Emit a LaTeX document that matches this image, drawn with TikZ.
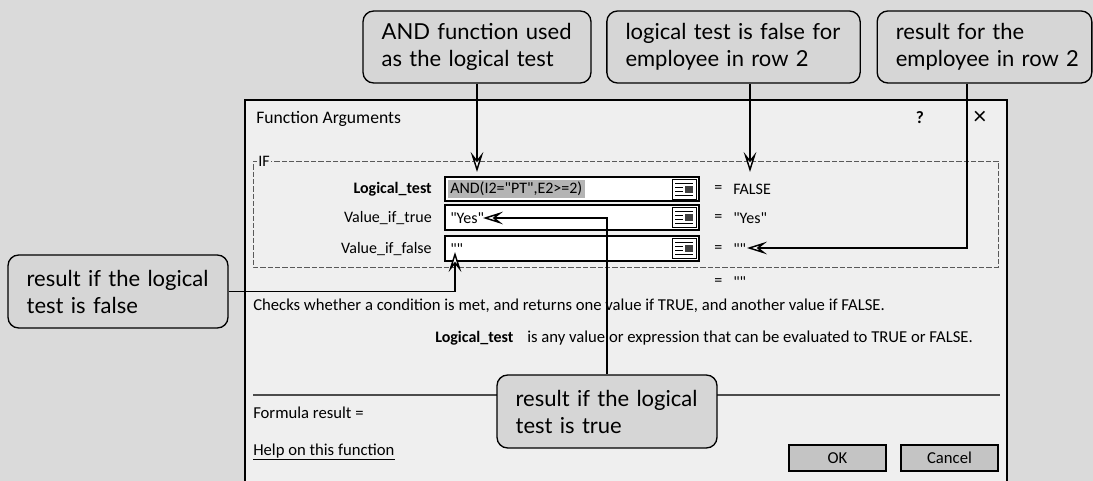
\documentclass[tikz,border=0pt]{standalone}
\usepackage{fontspec}
\setmainfont{Carlito}
\newfontfamily\calloutfont{Lato}
\usetikzlibrary{arrows.meta}

\definecolor{pagebg}{HTML}{DADADA}
\definecolor{dlgbg}{HTML}{EFEFEF}
\definecolor{notebg}{HTML}{D6D6D6}
\definecolor{btnbg}{HTML}{C4C4C4}
\definecolor{selbg}{HTML}{B4B4B4}

\newcommand{\dq}{\textquotedbl}

\tikzset{
  refedit/.pic={
    \draw[line width=0.6pt, fill=white] (-12,-10) rectangle (12,10);
    \draw[line width=0.7pt] (-9,-6) -- (9,-6) (-9,-2) -- (-1,-2) (-9,2) -- (-1,2) (-9,6) -- (9,6);
    \fill[black!75] (1,-3) rectangle (9,4);
  }
}

\begin{document}
\begin{tikzpicture}[x=0.75pt,y=-0.75pt,
  callout/.style={draw=black, line width=1pt, rounded corners=8pt, fill=notebg,
    align=left, inner xsep=14pt, inner ysep=0pt,
    font=\calloutfont\fontsize{16.5}{20.25}\selectfont},
  ptr/.style={line width=1.1pt, -{Stealth[open, fill=white, length=15pt, width=9.5pt, inset=6pt]}},
  lbl/.style={anchor=east, inner sep=0pt, font=\fontsize{12}{14}\selectfont},
  dtxt/.style={anchor=west, inner sep=0pt, font=\fontsize{12}{14}\selectfont},
  desctxt/.style={anchor=west, inner sep=0pt, font=\fontsize{12.5}{15}\selectfont},
  field/.style={draw=black, line width=0.8pt, fill=white},
  groupline/.style={draw=black!65, line width=0.6pt, dash pattern=on 4pt off 1.5pt},
  btn/.style={draw=black, fill=btnbg, inner sep=0pt, minimum width=72.75pt,
    minimum height=19.5pt, font=\fontsize{12.5}{14}\selectfont}
]
\useasboundingbox (0,0) rectangle (1093,481);
\fill[pagebg] (0,0) rectangle (1093,481);

% dialog window
\path[draw=black, line width=1pt, fill=dlgbg]
  (245,481) -- (245,100) -- (1007,100) -- (1007,481);
\node[anchor=west, inner sep=0pt, font=\fontsize{13.2}{16}\selectfont] (title) at (256,119) {Function Arguments};
\node[inner sep=0pt, font=\bfseries\fontsize{13}{15}\selectfont] (qmark) at (920,118) {?};
\node[inner sep=0pt, font=\fontsize{19}{19}\selectfont] (closex) at (980,118) {×};

% IF group box
\draw[groupline] (257,161) -- (253,161) -- (253,267) -- (998,267) -- (998,161) -- (271,161);
\node[inner sep=0pt, font=\fontsize{12}{14}\selectfont] (iflbl) at (264,161) {IF};

% argument rows
\node[lbl, font=\bfseries\fontsize{12}{14}\selectfont] (l1) at (432,189) {Logical\_test};
\node[lbl] (l2) at (432,218) {Value\_if\_true};
\node[lbl] (l3) at (432,249) {Value\_if\_false};

\draw[field] (445,177) rectangle (699,201);
\draw[field] (445,205) rectangle (699,230);
\draw[field] (445,236) rectangle (699,261);
\pic at (684,189) {refedit};
\pic at (684,217.5) {refedit};
\pic at (684,248.5) {refedit};

\fill[selbg] (448,180) rectangle (585,198);
\node[dtxt] (v1) at (450,189) {AND(I2=\dq PT\dq,E2>=2)};
\node[dtxt] (v2) at (450,218) {\dq Yes\dq};
\node[dtxt] (v3) at (450,249) {\dq\dq};

\node[dtxt] (e1) at (714,189) {=};
\node[dtxt] (e2) at (714,218) {=};
\node[dtxt] (e3) at (714,249) {=};
\node[dtxt] (r1) at (733,189) {FALSE};
\node[dtxt] (r2) at (733,218) {\dq Yes\dq};
\node[dtxt] (r3) at (733,249) {\dq\dq};

\node[dtxt] (e4) at (714,282) {=};
\node[dtxt] (r4) at (733,282) {\dq\dq};

% description
\node[desctxt] (desc) at (253,306) {Checks whether a condition is met, and returns one value if TRUE, and another value if FALSE.};
\node[desctxt, font=\bfseries\fontsize{12}{15}\selectfont] (argname) at (435,338) {Logical\_test};
\node[desctxt] (argdesc) at (527,338) {is any value or expression that can be evaluated to TRUE or FALSE.};

\draw[black!70, line width=0.8pt] (253,395) -- (1000,395);
\node[desctxt] (fres) at (253,413) {Formula result =};
\node[desctxt] (help) at (253,452) {\underline{Help on this function}};

\node[btn, line width=1.8pt] (ok) at (837.5,458) {OK};
\node[btn, line width=1pt] (cancel) at (949.5,458) {Cancel};

% callouts
\node[callout, text width=143pt, minimum height=54pt] (c1) at (477,47)
  {\mbox{AND function used}\\\mbox{as the logical test}};
\node[callout, text width=162pt, minimum height=54pt] (c2) at (733.5,47)
  {\mbox{logical test is false for}\\\mbox{employee in row 2}};
\node[callout, text width=133pt, minimum height=54pt] (c3) at (984.5,47)
  {\mbox{result for the}\\\mbox{employee in row 2}};
\node[callout, text width=137pt, minimum height=54.75pt] (c4) at (118,291.5)
  {\mbox{result if the logical}\\\mbox{test is false}};
\node[callout, text width=137pt, minimum height=54.75pt] (c5) at (607,411.5)
  {\mbox{result if the logical}\\\mbox{test is true}};

% pointers
\coordinate (t1) at (477,172);
\coordinate (t2) at (750,172);
\coordinate (k3) at (967,248);
\coordinate (t3) at (747,248);
\coordinate (t4) at (455,252);
\coordinate (t5) at (483,218);

\draw[ptr] (c1.south) -- (t1);
\draw[ptr] (c2.south -| t2) -- (t2);
\draw[ptr] (c3.south -| k3) -- (k3) -- (t3);
\draw[ptr] (c4.east) -| (t4);
\draw[ptr] (c5.north) |- (t5);
\end{tikzpicture}
\end{document}
